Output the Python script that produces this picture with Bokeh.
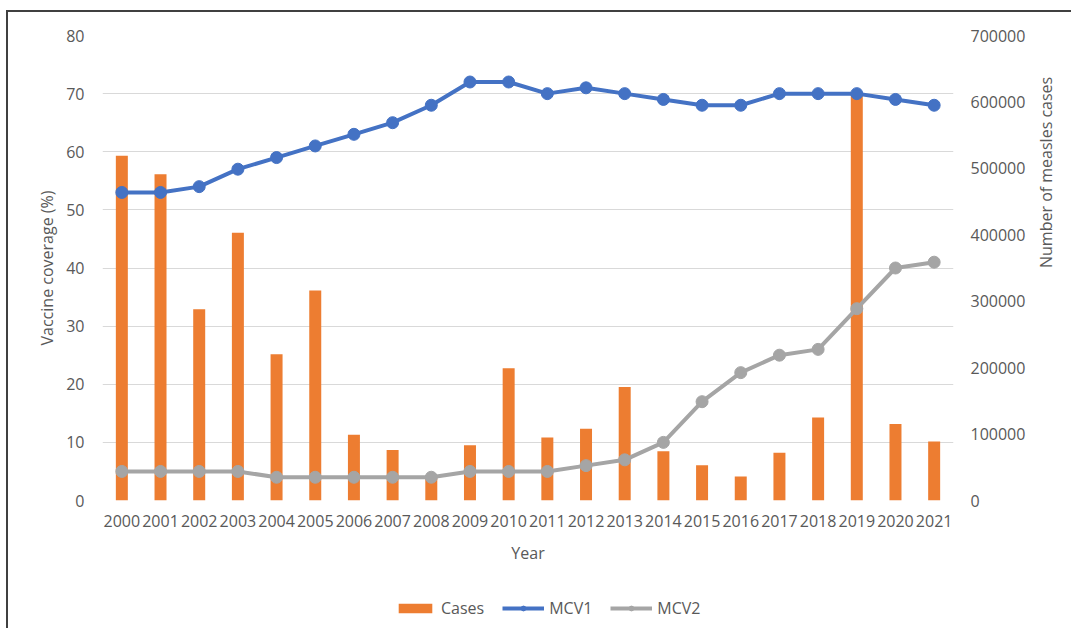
import math
from bokeh.plotting import figure
from bokeh.models import (Range1d, LinearAxis, FixedTicker, NumeralTickFormatter,
                          Legend, LegendItem, ColumnDataSource, FactorRange)
from bokeh.layouts import column
from bokeh.embed import file_html
from bokeh.resources import INLINE

years = [str(y) for y in range(2000, 2022)]
cases = [519000, 491000, 288000, 403000, 220000, 316000, 99000, 76000, 38000, 83000,
         199000, 95000, 108000, 171000, 74000, 53000, 36000, 72000, 125000, 615000,
         115000, 89000]
mcv1 = [53, 53, 54, 57, 59, 61, 63, 65, 68, 72, 72, 70, 71, 70, 69, 68, 68, 70, 70, 70, 69, 68]
mcv2 = [5, 5, 5, 5, 4, 4, 4, 4, 4, 5, 5, 5, 6, 7, 10, 17, 22, 25, 26, 33, 40, 41]
left_ticks = [0, 10, 20, 30, 40, 50, 60, 70, 80]
right_ticks = [0, 100000, 200000, 300000, 400000, 500000, 600000, 700000]

src = ColumnDataSource(dict(year=years, cases=cases, mcv1=mcv1, mcv2=mcv2))

FONT = "Open Sans"
GRAY = "#595959"
ORANGE = "#ED7D31"
BLUE = "#4472C4"
LGRAY = "#A5A5A5"


def draw(fig, with_axis):
    kw = dict(y_range_name="cases") if with_axis else {}
    b = fig.vbar(x="year", top="cases", width=0.31, source=src,
                 fill_color=ORANGE, line_color=None, **kw)
    a1 = fig.line("year", "mcv1", source=src, line_color=BLUE, line_width=4)
    b1 = fig.scatter("year", "mcv1", source=src, size=12, fill_color=BLUE, line_color=BLUE)
    a2 = fig.line("year", "mcv2", source=src, line_color=LGRAY, line_width=4)
    b2 = fig.scatter("year", "mcv2", source=src, size=12, fill_color=LGRAY, line_color=LGRAY)
    return b, a1, b1, a2, b2


p = figure(width=1063, height=563, x_range=FactorRange(*years, range_padding=0),
           y_range=Range1d(0, 80), output_backend="svg", toolbar_location=None,
           min_border_left=94, min_border_right=118, min_border_top=23,
           min_border_bottom=75)
p.outline_line_color = None
p.extra_y_ranges = {"cases": Range1d(0, 700000)}
draw(p, True)

p.xgrid.grid_line_color = None
p.ygrid.grid_line_color = "#D9D9D9"
p.ygrid.grid_line_width = 1
p.yaxis.ticker = FixedTicker(ticks=left_ticks)

raxis = LinearAxis(y_range_name="cases", ticker=FixedTicker(ticks=right_ticks),
                   formatter=NumeralTickFormatter(format="0"),
                   axis_label="Number of measles cases")
p.add_layout(raxis, "right")

p.xaxis.axis_label = "Year"
p.yaxis[0].axis_label = "Vaccine coverage (%)"

for ax in [p.xaxis[0], p.yaxis[0], raxis]:
    ax.axis_line_color = None
    ax.major_tick_line_color = None
    ax.minor_tick_line_color = None
    ax.major_tick_out = 0
    ax.major_tick_in = 0
    ax.minor_tick_out = 0
    ax.minor_tick_in = 0
    ax.major_label_text_font = FONT
    ax.major_label_text_font_size = "16px"
    ax.major_label_text_color = GRAY
    ax.axis_label_text_font = FONT
    ax.axis_label_text_font_size = "16px"
    ax.axis_label_text_font_style = "normal"
    ax.axis_label_text_color = GRAY

p.xaxis.major_label_standoff = 14
p.xaxis.axis_label_standoff = 12
p.yaxis[0].major_label_standoff = 18
p.yaxis[0].axis_label_standoff = 5
raxis.major_label_standoff = 17
raxis.axis_label_standoff = 18
raxis.axis_label_orientation = math.pi / 2
raxis.axis_label_text_align = "center"

# legend strip: same series, drawn out of view so only the legend shows
q = figure(width=1063, height=53, x_range=FactorRange(*years, range_padding=0),
           y_range=Range1d(1000000, 1000001), output_backend="svg",
           toolbar_location=None, x_axis_location=None, y_axis_location=None,
           min_border=0)
q.outline_line_color = None
q.grid.grid_line_color = None
lb, ll1, lc1, ll2, lc2 = draw(q, False)

legend = Legend(items=[LegendItem(label="Cases", renderers=[lb]),
                       LegendItem(label="MCV1", renderers=[ll1, lc1]),
                       LegendItem(label="MCV2", renderers=[ll2, lc2])],
                orientation="horizontal", location=(292, 9),
                glyph_width=42, glyph_height=12, label_standoff=5, spacing=18,
                label_text_font=FONT, label_text_font_size="16px",
                label_text_color=GRAY, border_line_color=None,
                background_fill_alpha=0, padding=2, margin=0)
q.add_layout(legend, "center")

layout = column(p, q)
layout.styles = {"border-top": "2px solid #404040", "border-left": "2px solid #404040",
                 "margin-left": "6px", "margin-top": "10px"}

open("out.html", "w").write(file_html(layout, INLINE))
